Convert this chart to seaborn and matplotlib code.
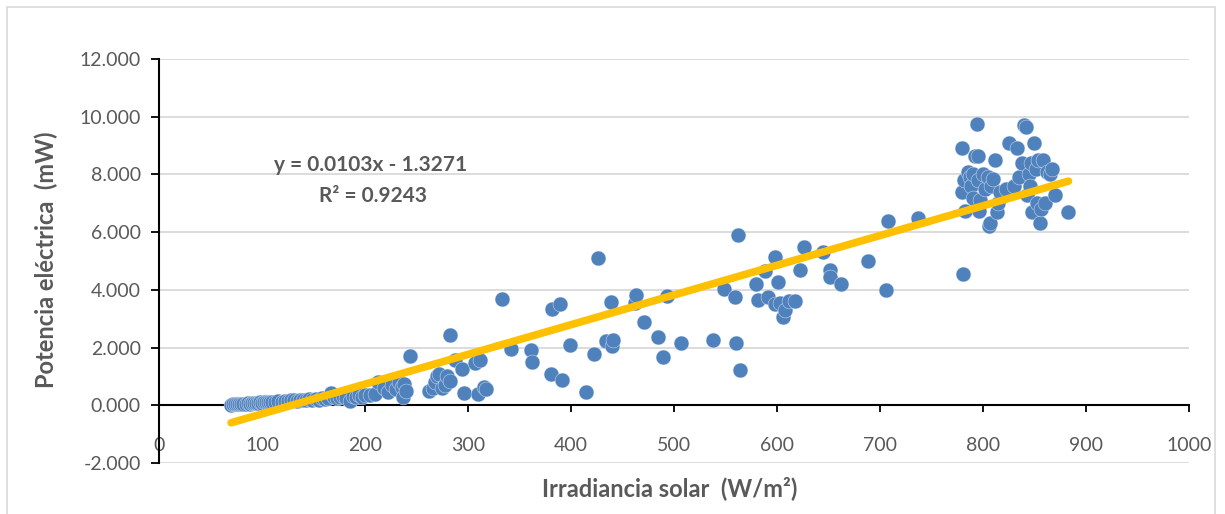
import matplotlib
matplotlib.use("Agg")
import matplotlib.pyplot as plt
import seaborn as sns
import numpy as np
import pandas as pd
from matplotlib.patches import Rectangle
from matplotlib.ticker import FuncFormatter, MultipleLocator

# ---------------- data ----------------
# low irradiance band
x_low = [70, 72, 74, 76, 78, 80, 82, 84, 86, 88, 90, 92, 94, 96, 98, 100, 102, 104, 106,
         108, 110, 113, 116, 119, 122, 125, 128, 131, 134, 137, 140, 143, 146, 149, 152,
         155, 158, 161, 164, 167, 170, 173, 176, 179, 182, 185, 188, 191, 194, 197, 200]
y_low = [0.02, 0.03, 0.03, 0.04, 0.05, 0.04, 0.06, 0.05, 0.07, 0.06, 0.08, 0.07, 0.09,
         0.08, 0.10, 0.09, 0.11, 0.10, 0.12, 0.11, 0.13, 0.12, 0.14, 0.13, 0.16, 0.15,
         0.17, 0.19, 0.16, 0.18, 0.20, 0.17, 0.21, 0.19, 0.22, 0.20, 0.24, 0.21, 0.26,
         0.42, 0.30, 0.25, 0.28, 0.32, 0.27, 0.15, 0.33, 0.30, 0.35, 0.28, 0.36]
# mid irradiance
x_mid = [205, 210, 213, 218, 222, 226, 230, 233, 236, 237, 238, 240, 244,
         262, 266, 268, 270, 272, 275, 278, 280, 283, 283, 287, 294, 296, 307, 310, 312,
         316, 317, 333, 342, 361, 362, 381, 382, 389, 391, 399, 415, 422, 426, 434, 439,
         440, 441, 462, 463, 471, 484, 489, 493, 507]
y_mid = [0.35, 0.40, 0.80, 0.60, 0.45, 0.70, 0.55, 0.80, 0.65, 0.30, 0.75, 0.50, 1.72,
         0.50, 0.60, 0.80, 1.00, 1.10, 0.60, 0.70, 1.00, 0.85, 2.43, 1.58, 1.25, 0.42,
         1.46, 0.40, 1.56, 0.63, 0.55, 3.68, 1.94, 1.91, 1.49, 1.08, 3.33, 3.50, 0.87,
         2.08, 0.45, 1.78, 5.10, 2.22, 3.57, 2.05, 2.25, 3.55, 3.82, 2.90, 2.36, 1.68,
         3.80, 2.17]
# high irradiance
x_high = [538, 549, 559, 560, 562, 564, 580, 582, 588, 591, 598, 598, 601, 603, 606, 608,
          612, 617, 622, 626, 645, 651, 651, 662, 688, 706, 708, 737,
          780, 780, 781, 782, 783, 785, 787, 788, 790, 790, 792, 794, 795, 795, 796, 797,
          800, 802, 805, 806, 807, 808, 810, 812, 814, 815, 817, 822, 825, 830, 833, 835,
          838, 840, 842, 843, 845, 846, 847, 848, 850, 851, 852, 853, 855, 856, 858, 860,
          862, 865, 867, 870, 883]
y_high = [2.25, 4.02, 3.75, 2.15, 5.90, 1.22, 4.20, 3.65, 4.66, 3.75, 5.13, 3.50, 4.27,
          3.55, 3.05, 3.30, 3.60, 3.60, 4.68, 5.50, 5.30, 4.70, 4.43, 4.20, 5.00, 4.00,
          6.40, 6.50,
          8.90, 7.40, 4.55, 7.80, 6.75, 8.10, 7.90, 7.60, 7.20, 8.00, 8.65, 9.75, 8.65,
          7.80, 6.75, 7.10, 8.00, 7.50, 7.90, 6.20, 6.30, 7.60, 7.85, 8.50, 6.70, 7.00,
          7.40, 7.50, 9.10, 7.60, 8.90, 7.90, 8.40, 9.70, 9.65, 7.30, 8.00, 7.60, 8.40,
          6.70, 9.10, 8.20, 7.00, 8.50, 6.30, 6.80, 8.50, 7.00, 8.10, 8.00, 8.20, 7.30,
          6.70]

slope = 0.0103
intercept = -1.3271
r2 = 0.9243

irr = x_low + x_mid + x_high
pot = y_low + y_mid + y_high
df = pd.DataFrame({"irr": irr, "pot": pot})

# trend line from fitted coefficients over the data range
xt = np.array([min(irr), max(irr)])
trend = pd.DataFrame({"irr": xt, "pot": slope * xt + intercept})

# ---------------- figure ----------------
sns.set_theme(style="white")
plt.rcParams["font.family"] = ["Lato", "DejaVu Sans"]

fig = plt.figure(figsize=(12.25, 5.14), dpi=100)
ax = fig.add_axes([0.1298, 0.0992, 0.8408, 0.786])

grey_text = "#595959"
for yv in np.arange(-2, 13, 2):
    ax.axhline(yv, color="#D9D9D9", lw=1.3, zorder=0)

sns.scatterplot(data=df, x="irr", y="pot", ax=ax, s=115, color="#4F81BD",
                edgecolor="#E8EEF6", linewidth=0.3, zorder=3, legend=False)
sns.lineplot(data=trend, x="irr", y="pot", ax=ax, color="#FFC000", lw=5.5,
             zorder=4, legend=False)

ax.set_xlim(0, 1000)
ax.set_ylim(-2, 12)
ax.xaxis.set_major_locator(MultipleLocator(100))
ax.yaxis.set_major_locator(MultipleLocator(2))
ax.yaxis.set_major_formatter(FuncFormatter(lambda v, p: f"{v:.3f}"))

for s in ["top", "right"]:
    ax.spines[s].set_visible(False)
ax.spines["bottom"].set_position(("data", 0))
ax.spines["bottom"].set_color("black")
ax.spines["left"].set_color("black")
ax.spines["bottom"].set_linewidth(1.5)
ax.spines["left"].set_linewidth(1.5)
ax.spines["bottom"].set_zorder(2)

ax.tick_params(axis="x", direction="out", length=5, width=1.3, color="black",
               pad=18, labelsize=14, labelcolor=grey_text, bottom=True)
ax.tick_params(axis="y", direction="out", length=6, width=1.3, color="black",
               pad=7, labelsize=14, labelcolor=grey_text, left=True)

ax.set_xlabel("Irradiancia solar  (W/m²)", fontsize=17, fontweight="bold",
              color=grey_text)
ax.xaxis.set_label_coords(0.496, -0.032)
ax.set_ylabel("Potencia eléctrica  (mW)", fontsize=17, fontweight="bold",
              color=grey_text)
ax.yaxis.set_label_coords(-0.098, 0.502)

ax.text(0.205, 0.738, f"y = {slope}x - {abs(intercept)}", transform=ax.transAxes,
        ha="center", va="center", fontsize=15, fontweight="bold", color=grey_text)
ax.text(0.208, 0.660, f"R² = {r2}", transform=ax.transAxes,
        ha="center", va="center", fontsize=15, fontweight="bold", color=grey_text)

fig.patches.append(Rectangle((7 / 1225, -0.01), 1208 / 1225, 1 - 7 / 514 + 0.01,
                             transform=fig.transFigure, fill=False,
                             edgecolor="#D9D9D9", lw=1.2))

fig.savefig("out.png", dpi=100)
